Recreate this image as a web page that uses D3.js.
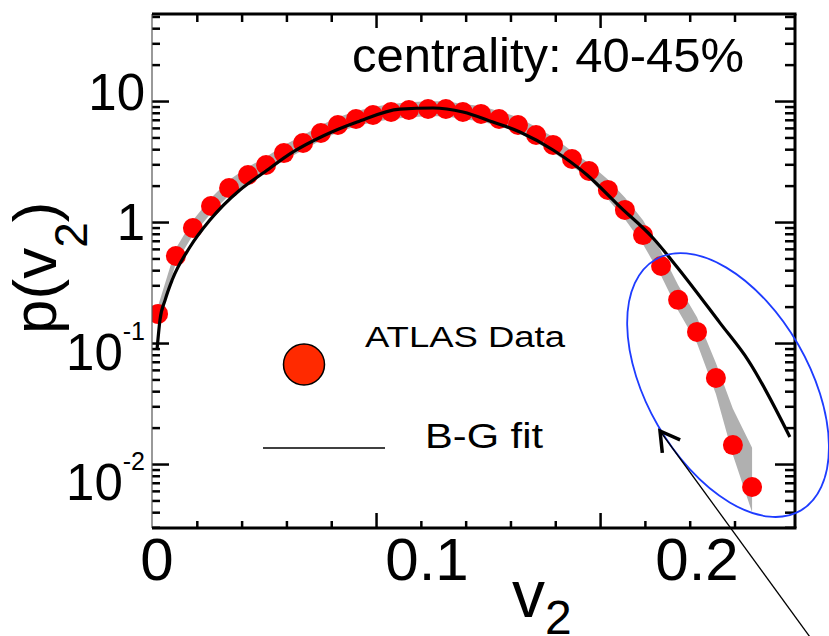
<!DOCTYPE html>
<html>
<head>
<meta charset="utf-8">
<script src="https://cdn.jsdelivr.net/npm/d3@7"></script>
<style>
  body { margin: 0; background: #fff; }
  text { font-family: "Liberation Sans", Arial, Helvetica, sans-serif; fill: #000; }
</style>
</head>
<body>
<div id="chart"></div>
<script>
// ATLAS data points, 40-45% centrality
const v2Values = [0.0004, 0.007, 0.0133, 0.02, 0.0267, 0.0337, 0.0404, 0.047, 0.0541, 0.0607,
                  0.067, 0.0737, 0.08, 0.0867, 0.0933, 0.1004, 0.107, 0.1133, 0.12, 0.1267,
                  0.1337, 0.1404, 0.1467, 0.1537, 0.16, 0.167, 0.1733, 0.18, 0.1867, 0.193,
                  0.2, 0.207, 0.2133, 0.2204];
const pValues = [0.198, 0.552, 0.907, 1.34, 1.84, 2.32, 2.77, 3.42, 4.09, 4.88,
                 5.62, 6.25, 6.71, 7.08, 7.33, 7.46, 7.46, 7.08, 6.84, 6.25,
                 5.62, 4.71, 3.95, 3.08, 2.49, 1.78, 1.25, 0.80, 0.463, 0.254,
                 0.144, 0.0637, 0.0194, 0.00923];
// grey uncertainty band
const bandLow = [0.174, 0.486, 0.80, 1.18, 1.62, 2.04, 2.44, 3.01, 3.60, 4.29,
                 4.95, 5.50, 5.90, 6.23, 6.45, 6.56, 6.56, 6.23, 6.02, 5.50,
                 4.95, 4.14, 3.48, 2.71, 2.19, 1.51, 1.06, 0.68, 0.39, 0.21,
                 0.118, 0.048, 0.0163, 0.0059];
const bandHigh = [0.228, 0.635, 1.04, 1.54, 2.12, 2.67, 3.19, 3.93, 4.70, 5.61,
                  6.46, 7.19, 7.72, 8.14, 8.43, 8.58, 8.58, 8.14, 7.87, 7.19,
                  6.46, 5.42, 4.54, 3.54, 2.86, 2.14, 1.56, 1.04, 0.60, 0.33,
                  0.187, 0.083, 0.037, 0.0185];
// B-G fit curve
const fitV2 = [0, 0.0011, 0.003, 0.0056, 0.0122, 0.0196, 0.0307, 0.0393, 0.0504, 0.0615,
               0.0741, 0.09, 0.1022, 0.1133, 0.1244, 0.1344, 0.1467, 0.1593, 0.1715, 0.1837,
               0.1926, 0.2085, 0.2189, 0.2344];
const fitP = [0.1045, 0.178, 0.253, 0.361, 0.648, 1.045, 1.78, 2.40, 3.49, 4.63,
              5.93, 7.46, 7.60, 7.08, 5.93, 4.97, 3.61, 2.32, 1.32, 0.76,
              0.455, 0.169, 0.0875, 0.0224];

const xTickLabels = [0, 0.1, 0.2];
const yTickLabels = [10, 1, 0.1, 0.01];

// annotation: ellipse round the tail and the arrow pointing at it
const ellipseCenter = {v2: 0.2115, p: 0.0562};
const arrowTip = {v2: 0.1863, p: 0.0249};
const arrowTail = {v2: 0.2426, p: 0.000616};

const W = 829, H = 636;
const L = 152, R = 795, T = 14, B = 528;

const svg = d3.select("#chart").append("svg")
    .attr("width", W)
    .attr("height", H);

// frame scales (tick marks) and value scales (labels and data)
const xFrame = d3.scaleLinear().domain([0, 0.287]).range([L, R]);
const yFrame = d3.scaleLog().domain([0.00296, 52.4]).range([B, T]);
const x = d3.scaleLinear().domain([0, 0.2]).range([157, 697]);
const y = d3.scaleLog().domain([0.01, 10]).range([482.5, 92.5]);

const xMinor = d3.range(1, 14).map(i => i * 0.02).filter(v => Math.abs(v * 10 - Math.round(v * 10)) > 1e-6);
const xMajor = [0.1, 0.2];
const yMajor = [0.01, 0.1, 1, 10];
const yMinor = yFrame.ticks().filter(v => Math.abs(Math.log10(v) - Math.round(Math.log10(v))) > 1e-6);

function frameTicks(axisFn, scale, vals, size, transform) {
    svg.append("g")
        .attr("transform", transform)
        .call(axisFn(scale).tickValues(vals).tickSize(size).tickFormat(""))
        .call(g => g.select(".domain").remove())
        .selectAll("line")
        .attr("stroke", "#000")
        .attr("stroke-width", 2.5);
}

frameTicks(d3.axisBottom, xFrame, xMinor, -7, `translate(0,${B})`);
frameTicks(d3.axisBottom, xFrame, xMajor, -15, `translate(0,${B})`);
frameTicks(d3.axisTop, xFrame, xMinor, -8, `translate(0,${T})`);
frameTicks(d3.axisTop, xFrame, xMajor, -14, `translate(0,${T})`);
frameTicks(d3.axisLeft, yFrame, yMinor, -8, `translate(${L},0)`);
frameTicks(d3.axisLeft, yFrame, yMajor, -17, `translate(${L},0)`);
frameTicks(d3.axisRight, yFrame, yMinor, -10, `translate(${R},0)`);
frameTicks(d3.axisRight, yFrame, yMajor, -20, `translate(${R},0)`);

// clip for the data
svg.append("clipPath").attr("id", "plot")
    .append("rect")
    .attr("x", L).attr("y", T)
    .attr("width", R - L).attr("height", B - T);

const pts = v2Values.map((v, i) => ({v2: v, p: pValues[i], lo: bandLow[i], hi: bandHigh[i]}));
const fit = fitV2.map((v, i) => ({v2: v, p: fitP[i]}));

const data = svg.append("g").attr("clip-path", "url(#plot)");

data.append("path")
    .datum(pts)
    .attr("d", d3.area()
        .x(d => x(d.v2))
        .y0(d => y(d.lo))
        .y1(d => y(d.hi)))
    .attr("fill", "#b0b0b0");

data.selectAll("circle")
    .data(pts)
    .enter()
    .append("circle")
    .attr("cx", d => x(d.v2))
    .attr("cy", d => y(d.p))
    .attr("r", 10)
    .attr("fill", "#ff0000");

data.append("path")
    .datum(fit)
    .attr("d", d3.line()
        .x(d => x(d.v2))
        .y(d => y(d.p))
        .curve(d3.curveMonotoneX))
    .attr("fill", "none")
    .attr("stroke", "#000")
    .attr("stroke-width", 3.2);

// frame lines
svg.append("line").attr("x1", L).attr("x2", L).attr("y1", T).attr("y2", B)
    .attr("stroke", "#555").attr("stroke-width", 1.2);
svg.append("line").attr("x1", L).attr("x2", R + 1.5).attr("y1", T).attr("y2", T)
    .attr("stroke", "#000").attr("stroke-width", 3);
svg.append("line").attr("x1", L).attr("x2", R + 1.5).attr("y1", B).attr("y2", B)
    .attr("stroke", "#000").attr("stroke-width", 3);
svg.append("line").attr("x1", R).attr("x2", R).attr("y1", T).attr("y2", B)
    .attr("stroke", "#000").attr("stroke-width", 3);

// tick labels
svg.selectAll(".xlab")
    .data(xTickLabels)
    .enter()
    .append("text")
    .attr("class", "xlab")
    .attr("x", d => x(d))
    .attr("y", 580)
    .attr("text-anchor", "middle")
    .attr("font-size", 60)
    .text(d => d3.format("")(d));

const ylab = svg.selectAll(".ylab")
    .data(yTickLabels)
    .enter()
    .append("text")
    .attr("class", "ylab")
    .attr("x", 145)
    .attr("y", d => y(d))
    .attr("dy", "0.35em")
    .attr("text-anchor", "end")
    .attr("font-size", 51);

ylab.each(function(d) {
    const e = Math.round(Math.log10(d));
    const t = d3.select(this);
    if (e >= 0) {
        t.text(String(d));
    } else {
        t.append("tspan").text("10");
        t.append("tspan").attr("font-size", 25).attr("dy", -30).text("-" + (-e));
    }
});

// axis titles
const xt = svg.append("text").attr("x", 512).attr("y", 617).attr("font-size", 66);
xt.append("tspan").text("v");
xt.append("tspan").attr("font-size", 48).attr("dy", 17).text("2");

const yt = svg.append("text")
    .attr("transform", "translate(56,334) rotate(-90)")
    .attr("font-size", 62);
yt.append("tspan").text("p(v");
yt.append("tspan").attr("font-size", 46).attr("dy", 31).text("2");
yt.append("tspan").attr("dy", -31).text(")");

svg.append("text")
    .attr("x", 352).attr("y", 72)
    .attr("font-size", 49)
    .text("centrality: 40-45%");

// legend
svg.append("circle")
    .attr("cx", 304).attr("cy", 364.5).attr("r", 20.5)
    .attr("fill", "#ff2a00")
    .attr("stroke", "#000").attr("stroke-width", 1.5);
svg.append("text")
    .attr("x", 365).attr("y", 347)
    .attr("font-size", 30)
    .attr("textLength", 200).attr("lengthAdjust", "spacingAndGlyphs")
    .text("ATLAS Data");
svg.append("line")
    .attr("x1", 263).attr("x2", 385).attr("y1", 448).attr("y2", 448)
    .attr("stroke", "#000").attr("stroke-width", 1.5);
svg.append("text")
    .attr("x", 425).attr("y", 448)
    .attr("font-size", 35)
    .attr("textLength", 118).attr("lengthAdjust", "spacingAndGlyphs")
    .text("B-G fit");

// annotation
svg.append("ellipse")
    .attr("transform", `translate(${x(ellipseCenter.v2)},${y(ellipseCenter.p)}) rotate(60)`)
    .attr("rx", 145).attr("ry", 81)
    .attr("fill", "none")
    .attr("stroke", "#1e3cff")
    .attr("stroke-width", 1.8);

const tip = [x(arrowTip.v2), y(arrowTip.p)];
const tail = [x(arrowTail.v2), y(arrowTail.p)];
svg.append("line")
    .attr("x1", tip[0]).attr("y1", tip[1])
    .attr("x2", tail[0]).attr("y2", tail[1])
    .attr("stroke", "#000").attr("stroke-width", 1.3);

const ang = Math.atan2(tail[1] - tip[1], tail[0] - tip[0]);
const arm = 22, spread = Math.PI / 6;
const a1 = [tip[0] + arm * Math.cos(ang + spread), tip[1] + arm * Math.sin(ang + spread)];
const a2 = [tip[0] + arm * Math.cos(ang - spread), tip[1] + arm * Math.sin(ang - spread)];
svg.append("path")
    .attr("d", `M${a1[0]},${a1[1]}L${tip[0]},${tip[1]}L${a2[0]},${a2[1]}`)
    .attr("fill", "none")
    .attr("stroke", "#000")
    .attr("stroke-width", 3.5)
    .attr("stroke-linejoin", "miter");
</script>
</body>
</html>
